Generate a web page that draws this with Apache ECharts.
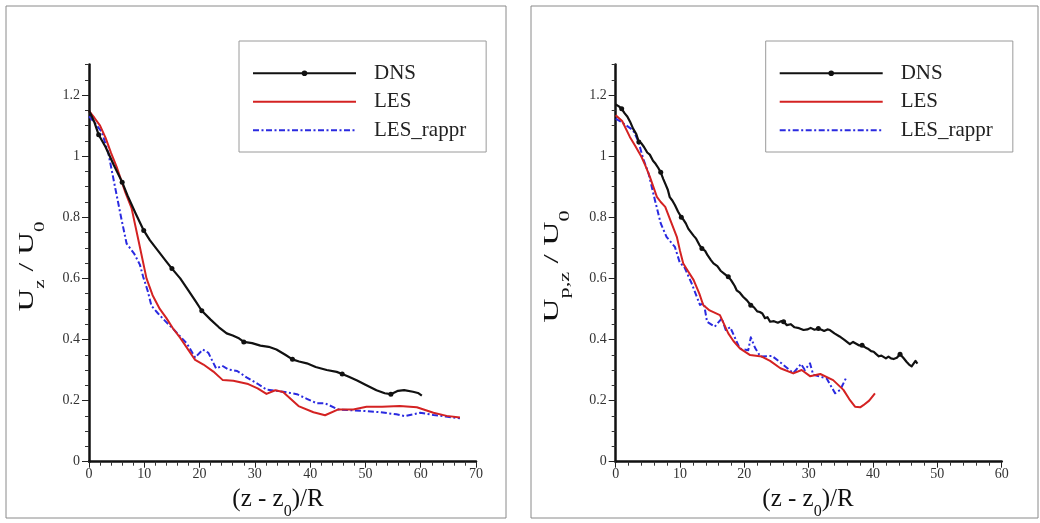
<!DOCTYPE html>
<html><head><meta charset="utf-8">
<script src="https://cdn.jsdelivr.net/npm/echarts@6/dist/echarts.min.js"></script>
<style>html,body{margin:0;padding:0;background:#fff}#c{width:1040px;height:523px}</style>
</head><body><div id="c"></div>
<script>
// ---------- data ----------
const seriesNames = ['DNS', 'LES', 'LES_rappr'];
const yMajorTicks = [0, 0.2, 0.4, 0.6, 0.8, 1, 1.2];
const xMaxLeft = 70, xMaxRight = 60;

// Left panel: U_z / U_0
const dnsL_x = [0,1,1.75,3,4.5,6.0,7,8.5,9.9,11,12.5,14,15.0,16.5,18,19.3,20.4,22,23.5,24.9,26,27,28.0,29.5,31,32.5,33.9,35.5,36.8,38,39.4,41,43,44.8,45.8,47,48.5,50,52,53.5,54.6,55.9,57,58.6,59.5,60.2];
const dnsL_y = [1.15,1.11,1.07,1.03,0.97,0.915,0.87,0.81,0.757,0.725,0.69,0.655,0.632,0.6,0.56,0.525,0.494,0.465,0.44,0.42,0.413,0.405,0.392,0.388,0.38,0.376,0.367,0.35,0.335,0.328,0.322,0.31,0.30,0.294,0.287,0.278,0.266,0.252,0.234,0.224,0.221,0.232,0.234,0.229,0.225,0.216];
const dnsL_marks = [2,5,8,12,16,22,28,34,40];

const lesL_x = [0,1,2,3,4,5,5.6,6.5,7.7,9,10.4,11.5,12.8,14,15.2,16.5,18,19.2,20.7,22.5,24.2,26.1,28.8,30.5,32.1,33.7,35.1,36.5,37.9,40.6,42.7,45.1,47.8,50.2,53,56.2,59.3,62.3,64.7,67.1];
const lesL_y = [1.148,1.125,1.10,1.06,1.01,0.965,0.933,0.885,0.83,0.72,0.60,0.545,0.50,0.47,0.436,0.405,0.365,0.333,0.318,0.295,0.267,0.265,0.254,0.24,0.222,0.234,0.228,0.205,0.182,0.162,0.152,0.171,0.171,0.180,0.180,0.182,0.178,0.160,0.150,0.145];

const rapL_x = [0,1,2.3,3.5,4.7,5.8,6.8,8.2,9.2,9.8,10.6,11.3,12.5,13.8,15.2,16.5,17.7,19.2,20.6,21.6,23,24.1,25.2,26.8,28.5,30.5,32.1,35.1,37.6,39.5,41.2,42.7,45.1,49,52.6,55.6,57.1,59.9,62.3,64.5,67.1];
const rapL_y = [1.13,1.11,1.08,1.01,0.90,0.80,0.714,0.68,0.645,0.605,0.56,0.51,0.485,0.46,0.435,0.41,0.387,0.341,0.367,0.356,0.305,0.314,0.302,0.297,0.276,0.255,0.236,0.229,0.221,0.205,0.191,0.191,0.171,0.167,0.162,0.155,0.149,0.160,0.153,0.148,0.142];

// Right panel: U_p,z / U_0
const dnsR_x = [0,0.5,0.93,1.4,1.8,2.3,2.7,3.2,3.6,4.0,4.4,4.9,5.3,5.8,6.2,6.6,7.0,7.4,7.7,8.1,8.4,8.8,9.2,9.7,10.2,10.6,10.9,11.3,11.6,12.1,12.5,13.0,13.4,13.9,14.3,14.8,15.2,15.8,16.3,16.9,17.5,17.9,18.2,18.5,18.8,19.3,19.8,20.4,21.0,21.5,22.0,22.4,22.8,23.2,23.6,24.0,24.6,25.2,25.7,26.1,26.6,27.2,27.8,28.5,29.2,29.8,30.3,30.9,31.5,32.0,32.4,32.9,33.3,34.0,34.8,35.6,36.4,36.9,37.2,37.8,38.3,38.8,39.2,39.7,40.1,40.5,40.9,41.3,41.6,42.0,42.4,42.8,43.2,43.7,44.2,44.7,45.2,45.6,46.0,46.3,46.6,46.9];
const dnsR_y = [1.169,1.163,1.155,1.14,1.13,1.11,1.09,1.072,1.046,1.042,1.03,1.012,1.005,0.985,0.975,0.962,0.947,0.925,0.91,0.89,0.866,0.855,0.84,0.818,0.80,0.79,0.78,0.762,0.757,0.74,0.73,0.71,0.698,0.69,0.675,0.66,0.649,0.64,0.625,0.615,0.605,0.595,0.585,0.575,0.561,0.553,0.54,0.528,0.512,0.505,0.492,0.49,0.485,0.47,0.473,0.458,0.46,0.455,0.46,0.458,0.447,0.45,0.44,0.437,0.431,0.433,0.438,0.432,0.436,0.432,0.428,0.433,0.431,0.42,0.41,0.398,0.385,0.392,0.39,0.381,0.381,0.374,0.37,0.362,0.36,0.352,0.345,0.347,0.342,0.338,0.344,0.338,0.336,0.34,0.352,0.34,0.327,0.318,0.312,0.318,0.330,0.321];
const dnsR_marks = [2,8,16,24,32,40,48,59,68,80,94];

const lesR_x = [0,1,2.2,3,4.0,4.6,5.3,6.4,7.0,7.7,8.6,9.5,10.0,10.5,11.2,12.1,13.0,13.6,14.6,16.2,17.5,18.3,19.3,20.9,22.7,24.0,25.6,27.6,28.9,30.2,31.8,33.8,35.4,36.3,37.2,38.0,38.5,39.4,40.3];
const lesR_y = [1.134,1.115,1.063,1.035,0.998,0.97,0.933,0.867,0.85,0.834,0.785,0.736,0.69,0.649,0.625,0.595,0.55,0.513,0.495,0.48,0.42,0.395,0.371,0.349,0.344,0.33,0.306,0.289,0.30,0.28,0.287,0.267,0.235,0.205,0.18,0.178,0.185,0.20,0.224];

const rapR_x = [0,1,2.7,3.5,4.3,5.1,6.1,7.0,7.9,9.2,10.0,10.6,11.8,12.6,13.1,13.7,14.2,15.4,16.5,17.1,17.8,19.3,20.6,21.0,21.7,22.5,24.3,25.6,27.6,28.8,29.4,30.2,30.7,32.8,34.1,34.9,35.9];
const rapR_y = [1.123,1.11,1.085,1.05,0.99,0.944,0.856,0.78,0.736,0.703,0.649,0.64,0.584,0.54,0.513,0.519,0.458,0.442,0.469,0.431,0.44,0.37,0.365,0.407,0.371,0.344,0.346,0.325,0.29,0.32,0.30,0.322,0.285,0.272,0.224,0.235,0.278];

// ---------- styles ----------
const SERIF = 'Liberation Serif';
const colors = {DNS: '#111111', LES: '#d42222', LES_rappr: '#2a2ae0'};
const lineStyles = {
  DNS: {color: colors.DNS, width: 2.2},
  LES: {color: colors.LES, width: 2},
  LES_rappr: {color: colors.LES_rappr, width: 2, type: [6, 2.5, 2, 2.5]}
};

function mkSeries(name, xs, ys, marks, g) {
  const m = marks || [];
  return {
    type: 'line', name: name, xAxisIndex: g, yAxisIndex: g * 2 + 1,
    data: xs.map((x, i) => ({value: [x, ys[i]], symbol: m.indexOf(i) >= 0 ? 'circle' : 'none'})),
    symbol: marks ? 'circle' : 'none', symbolSize: 5, showSymbol: !!marks,
    lineStyle: Object.assign({join: 'round', cap: 'butt'}, lineStyles[name]),
    itemStyle: {color: colors[name], borderWidth: 0},
    emphasis: {disabled: true}, animation: false,
    z: name === 'DNS' ? 4 : (name === 'LES' ? 3 : 2)
  };
}

const gridL = {left: 89, top: 64.5, width: 387, height: 397.2};
const gridR = {left: 615.7, top: 64.5, width: 386, height: 397.2};

function xAxis(g, max) {
  return {
    type: 'value', gridIndex: g, min: 0, max: max, interval: 10, position: 'bottom',
    axisLine: {lineStyle: {color: '#111', width: 2.5}},
    axisTick: {length: 6, lineStyle: {color: '#222', width: 1}},
    minorTick: {show: true, splitNumber: 5, length: 4, lineStyle: {color: '#333', width: 1}},
    axisLabel: {margin: 6, fontFamily: SERIF, fontSize: 14, color: '#333'},
    splitLine: {show: false}, minorSplitLine: {show: false}
  };
}
function yAxes(g) {
  return [{
    type: 'value', gridIndex: g, position: 'left', min: 0, max: 1.3, interval: 0.05,
    axisLine: {show: false}, axisLabel: {show: false},
    axisTick: {length: 4, lineStyle: {color: '#333', width: 1}},
    splitLine: {show: false}
  }, {
    type: 'value', gridIndex: g, position: 'left', offset: 0, min: 0, max: 1.3, interval: 0.2,
    axisLine: {show: true, onZero: false, lineStyle: {color: '#111', width: 2.5}},
    axisTick: {length: 7, customValues: yMajorTicks, lineStyle: {color: '#222', width: 1}},
    axisLabel: {customValues: yMajorTicks, margin: 9, fontFamily: SERIF, fontSize: 14, color: '#333'},
    splitLine: {show: false}
  }];
}

function legend(left) {
  return {
    show: true, orient: 'vertical', left: left, top: 41,
    data: seriesNames.map(n => n === 'DNS' ? {name: n} : {name: n, itemStyle: {opacity: 0}}),
    padding: [21.7, 20, 11.3, 13], itemWidth: 103, itemHeight: 7, itemGap: 7.5,
    borderColor: '#9a9a9a', borderWidth: 1, backgroundColor: '#fff',
    selectedMode: false,
    textStyle: {fontFamily: SERIF, fontSize: 21, lineHeight: 20, color: '#222', padding: [0, 0, 0, 13]}
  };
}

function yTitle(x, y, main, scale) {
  return {
    type: 'text', x: x, y: y, rotation: Math.PI / 2, scaleX: scale, silent: true,
    style: {
      text: '{b|U}{s|' + main + '}{b| / U}{s|0}', align: 'center', verticalAlign: 'middle',
      rich: {
        b: {fontFamily: SERIF, fontSize: 21, lineHeight: 28, verticalAlign: 'top', fill: '#111'},
        s: {fontFamily: SERIF, fontSize: 14, lineHeight: 14, verticalAlign: 'top', padding: [17, 0, 0, 0], fill: '#111'}
      }
    }
  };
}
function xTitle(x, y) {
  return {
    type: 'text', x: x, y: y, silent: true,
    style: {
      text: '{b|(z - z}{s|0}{b|)/R}', align: 'center', verticalAlign: 'middle',
      rich: {
        b: {fontFamily: SERIF, fontSize: 25, lineHeight: 30, verticalAlign: 'top', fill: '#111'},
        s: {fontFamily: SERIF, fontSize: 16, lineHeight: 16, verticalAlign: 'top', padding: [17, 0, 0, 0], fill: '#111'}
      }
    }
  };
}

const chart = echarts.init(document.getElementById('c'), null, {renderer: 'canvas'});
chart.setOption({
  backgroundColor: '#fff',
  animation: false,
  grid: [gridL, gridR],
  xAxis: [xAxis(0, xMaxLeft), xAxis(1, xMaxRight)],
  yAxis: yAxes(0).concat(yAxes(1)),
  legend: [legend(239), legend(765.7)],
  series: [
    mkSeries('LES_rappr', rapL_x, rapL_y, null, 0),
    mkSeries('LES', lesL_x, lesL_y, null, 0),
    mkSeries('DNS', dnsL_x, dnsL_y, dnsL_marks, 0),
    mkSeries('LES_rappr', rapR_x, rapR_y, null, 1),
    mkSeries('LES', lesR_x, lesR_y, null, 1),
    mkSeries('DNS', dnsR_x, dnsR_y, dnsR_marks, 1)
  ],
  graphic: [
    {type: 'rect', shape: {x: 6, y: 6, width: 500, height: 512}, style: {fill: 'none', stroke: '#8a8a8a', lineWidth: 1}, silent: true, z: -1},
    {type: 'rect', shape: {x: 531, y: 6, width: 507, height: 512}, style: {fill: 'none', stroke: '#8a8a8a', lineWidth: 1}, silent: true, z: -1},
    yTitle(30.5, 266.5, 'z', 1.5),
    yTitle(555.5, 266.5, 'p,z', 1.6),
    xTitle(278, 502),
    xTitle(808, 502)
  ]
});
</script>
</body></html>
